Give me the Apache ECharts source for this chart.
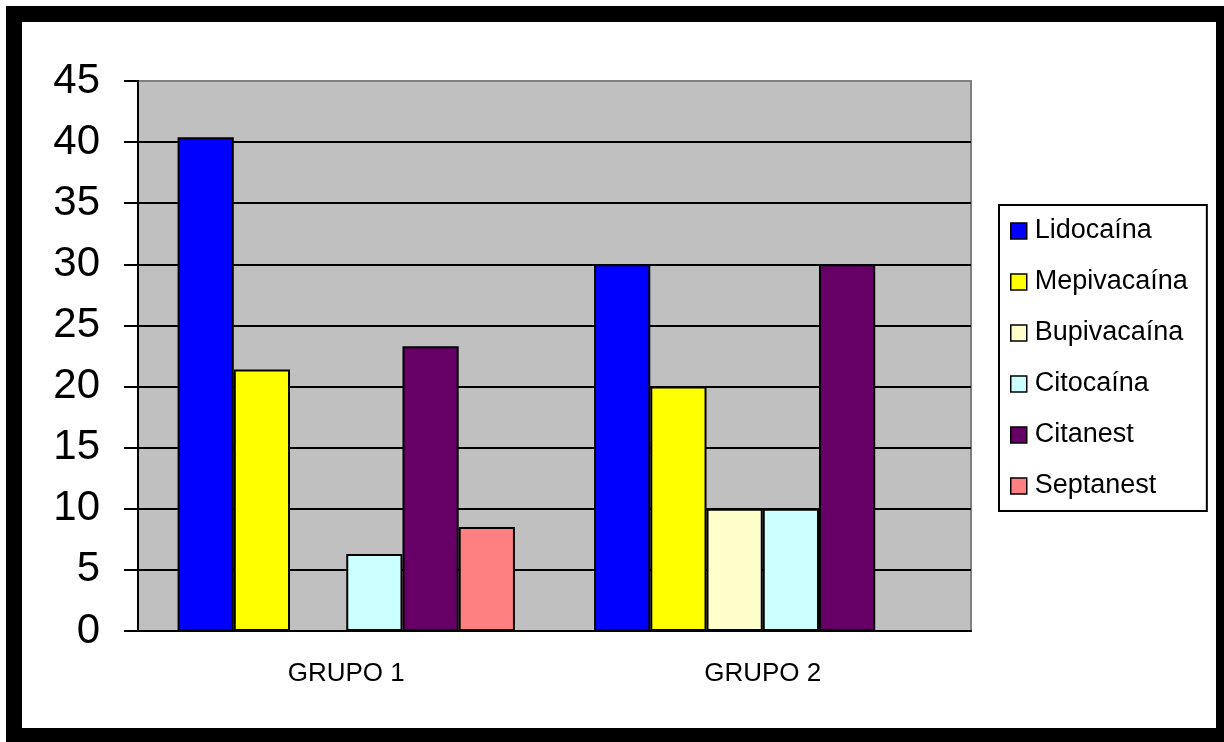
<!DOCTYPE html>
<html>
<head>
<meta charset="utf-8">
<script src="https://cdn.jsdelivr.net/npm/echarts@6/dist/echarts.min.js"></script>
<style>
  html, body { margin: 0; padding: 0; background: #fff; }
  #frame {
    position: absolute; left: 6px; top: 6px; width: 1218px; height: 736px;
    box-sizing: border-box; background: #fff;
    border-style: solid; border-color: #000;
    border-width: 16px 8px 14px 16px;
  }
  #chart { position: absolute; left: 0; top: 0; width: 1224px; height: 742px; }
</style>
</head>
<body>
<div id="frame"></div>
<div id="chart"></div>
<script>
// groups on the x axis
const categories = ['GRUPO 1', 'GRUPO 2']
// one value per group for each anaesthetic
const lidocaina = [40.4, 30]
const mepivacaina = [21.4, 20]
const bupivacaina = [0, 10]
const citocaina = [6.3, 10]
const citanest = [23.3, 30]
const septanest = [8.5, 0]
const yTicks = { min: 0, max: 45, interval: 5 }

const seriesDefs = [
  { name: 'Lidocaína', data: lidocaina, color: '#0000ff' },
  { name: 'Mepivacaína', data: mepivacaina, color: '#ffff00' },
  { name: 'Bupivacaína', data: bupivacaina, color: '#ffffcc' },
  { name: 'Citocaína', data: citocaina, color: '#ccffff' },
  { name: 'Citanest', data: citanest, color: '#660066' },
  { name: 'Septanest', data: septanest, color: '#ff8080' }
]

const chart = echarts.init(document.getElementById('chart'))

chart.setOption({
  backgroundColor: 'transparent',
  animation: false,
  grid: {
    left: 138, top: 81, right: 253, bottom: 111,
    show: true,
    backgroundColor: '#c0c0c0',
    borderColor: '#808080',
    borderWidth: 2
  },
  legend: {
    orient: 'vertical',
    left: 999, top: 205,
    padding: [12, 19, 11, 11],
    backgroundColor: '#fff',
    borderColor: '#000',
    borderWidth: 2,
    icon: 'rect',
    itemWidth: 16, itemHeight: 16, itemGap: 23,
    itemStyle: { borderColor: '#000', borderWidth: 1.5 },
    textStyle: {
      fontFamily: 'Liberation Sans, Arial, sans-serif',
      fontSize: 27, lineHeight: 28, color: '#000',
      padding: [0, 0, 0, 3]
    },
    data: seriesDefs.map(s => s.name)
  },
  xAxis: {
    type: 'category',
    data: categories,
    axisLine: { lineStyle: { color: '#000', width: 2 } },
    axisTick: { length: 8, lineStyle: { color: '#000', width: 2 } },
    axisLabel: {
      margin: 30,
      color: '#000',
      fontFamily: 'Liberation Sans, Arial, sans-serif',
      fontSize: 26
    }
  },
  yAxis: {
    type: 'value',
    min: yTicks.min, max: yTicks.max, interval: yTicks.interval,
    axisLine: { show: true, lineStyle: { color: '#000', width: 2 } },
    axisTick: { show: true, length: 14, lineStyle: { color: '#000', width: 2 } },
    axisLabel: {
      margin: 38,
      color: '#000',
      fontFamily: 'Liberation Sans, Arial, sans-serif',
      fontSize: 42
    },
    splitLine: { show: true, showMaxLine: false, lineStyle: { color: '#000', width: 2 } }
  },
  series: seriesDefs.map(s => ({
    type: 'bar',
    name: s.name,
    data: s.data,
    barGap: 0,
    barCategoryGap: '19%',
    itemStyle: { color: s.color, borderColor: '#000', borderWidth: 2 }
  }))
})
</script>
</body>
</html>
